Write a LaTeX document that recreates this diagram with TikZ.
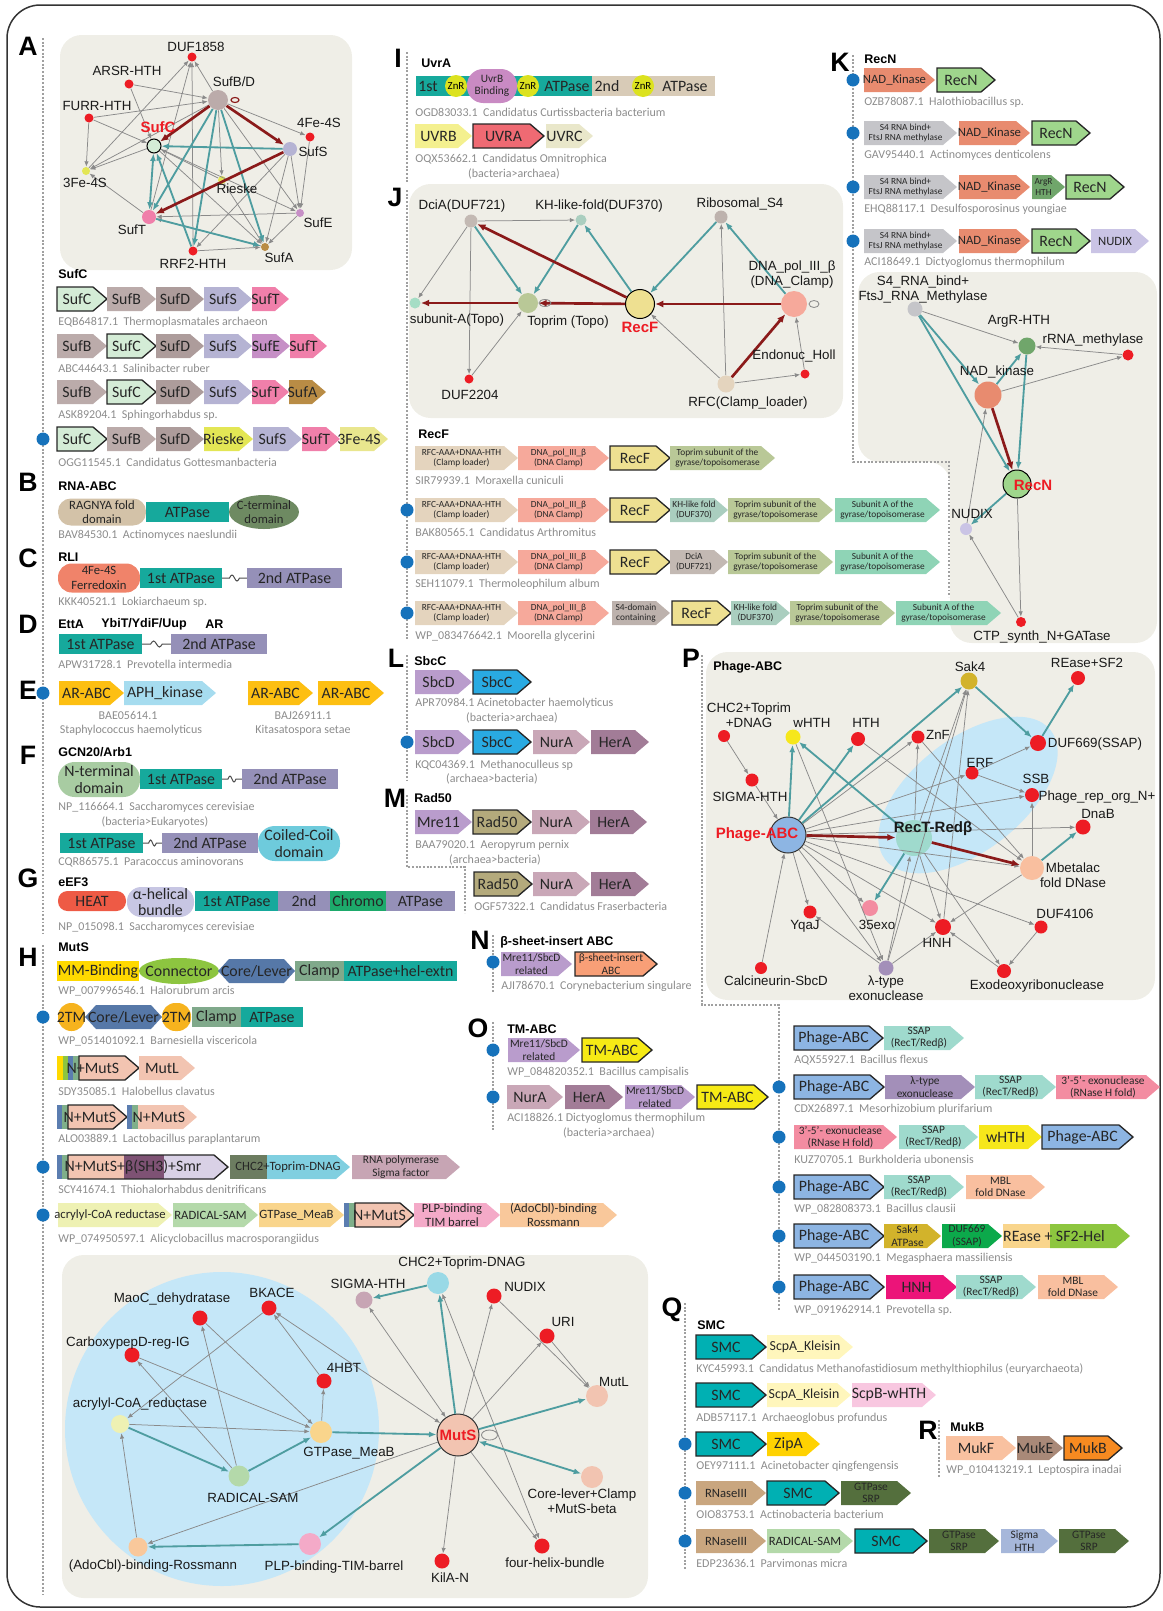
\documentclass[tikz,border=0pt]{standalone}
\usepackage{fontspec}
\setmainfont{Liberation Sans}
\newfontfamily\gf{Carlito}
\usetikzlibrary{arrows.meta}

% general colours
\definecolor{bgc}{HTML}{EFEEE7}
\definecolor{edgec}{HTML}{8A8A8A}
\definecolor{tealc}{HTML}{4E9DA0}
\definecolor{dredc}{HTML}{8B1A1A}
\definecolor{dotc}{HTML}{A0A0A0}
\definecolor{bdotc}{HTML}{1672BB}
\definecolor{nredc}{HTML}{ED1C24}
\definecolor{nblue}{HTML}{C5E7F8}
% gene colours
\definecolor{csufc}{HTML}{D4ECD6}\definecolor{csufb}{HTML}{BBABAA}\definecolor{csufd}{HTML}{AD9C9B}
\definecolor{csufs}{HTML}{B5B3D3}\definecolor{csuft}{HTML}{F07FAA}\definecolor{csufe}{HTML}{C68FC6}
\definecolor{csufa}{HTML}{B98C45}\definecolor{crieske}{HTML}{E3E655}\definecolor{cfe3}{HTML}{E9E68E}
\definecolor{cragnya}{HTML}{D3C2A8}\definecolor{catp}{HTML}{16A99C}\definecolor{cct}{HTML}{6E8A62}
\definecolor{cfer}{HTML}{F0836A}\definecolor{catp2}{HTML}{9590B8}\definecolor{carabc}{HTML}{FDBF12}
\definecolor{caph}{HTML}{A6DCEF}\definecolor{cnterm}{HTML}{A8CCA2}\definecolor{ccoil}{HTML}{6ECBDC}
\definecolor{cheat}{HTML}{EE5A45}\definecolor{chelix}{HTML}{C7C6E3}\definecolor{cchromo}{HTML}{1DAA6B}
\definecolor{cmm}{HTML}{FFD900}\definecolor{cconn}{HTML}{8DC540}\definecolor{ccore}{HTML}{5678A8}
\definecolor{cclamp}{HTML}{80A98B}\definecolor{c2tm}{HTML}{F6B31E}\definecolor{cmuts}{HTML}{F2C4B1}
\definecolor{cbeta}{HTML}{7E5274}\definecolor{csmr}{HTML}{D9D1E6}\definecolor{cchc}{HTML}{6C7C60}
\definecolor{ctoprim}{HTML}{80CFE0}\definecolor{crnap}{HTML}{C7A5B4}\definecolor{cacryl}{HTML}{EEF1B3}
\definecolor{crad}{HTML}{B4D9AA}\definecolor{cgtp}{HTML}{F9D58C}\definecolor{cplp}{HTML}{F4AAC8}
\definecolor{cado}{HTML}{F9C89B}\definecolor{cstb}{HTML}{5B7DB0}\definecolor{cstg}{HTML}{7FAF8A}
\definecolor{cuvrb}{HTML}{F4F08F}\definecolor{cuvra}{HTML}{EF6A73}\definecolor{cuvrc}{HTML}{E9E7CA}
\definecolor{cuvrab}{HTML}{C98AC3}\definecolor{cznr}{HTML}{DCE21F}\definecolor{c2nd}{HTML}{D8CBB7}
\definecolor{crfc}{HTML}{E4D4BE}\definecolor{cdnap}{HTML}{F6A99B}\definecolor{crecf}{HTML}{EEE091}
\definecolor{ctop}{HTML}{B9C897}\definecolor{ckh}{HTML}{AACEBF}\definecolor{csuba}{HTML}{8FD4B6}
\definecolor{cdcia}{HTML}{C3B9B3}\definecolor{cs4d}{HTML}{BDB2AD}
\definecolor{cnad}{HTML}{E88B6F}\definecolor{crecn}{HTML}{9FD68C}\definecolor{cs4}{HTML}{C5C5C9}
\definecolor{cargr}{HTML}{70A66B}\definecolor{cnudix}{HTML}{CAC4E5}
\definecolor{csbcd}{HTML}{B99CCC}\definecolor{csbcc}{HTML}{29AAE2}\definecolor{cnura}{HTML}{C9A7B7}
\definecolor{chera}{HTML}{A27C97}\definecolor{crad50}{HTML}{B4AA7C}\definecolor{cbsheet}{HTML}{F89F77}
\definecolor{ctmabc}{HTML}{F6EA15}
\definecolor{cphage}{HTML}{8DB5E3}\definecolor{cssap}{HTML}{9FDACD}\definecolor{clam}{HTML}{A38FB9}
\definecolor{c35}{HTML}{F38CA1}\definecolor{cwhth}{HTML}{F6E71B}\definecolor{cmbl}{HTML}{F9BF9F}
\definecolor{csak4}{HTML}{D2B32B}\definecolor{cduf669}{HTML}{0CA94B}\definecolor{crease}{HTML}{F9D58C}
\definecolor{csf2}{HTML}{8DC63F}\definecolor{chnh}{HTML}{EC1479}
\definecolor{csmc}{HTML}{00B0B3}\definecolor{cscpa}{HTML}{FFF6BC}\definecolor{cscpb}{HTML}{F8C7E0}
\definecolor{czipa}{HTML}{FFD201}\definecolor{crnase}{HTML}{C9A67F}\definecolor{csrp}{HTML}{546F3D}
\definecolor{csig}{HTML}{A6B7DA}
\definecolor{cmukf}{HTML}{F9C1A0}\definecolor{cmuke}{HTML}{A98978}\definecolor{cmukb}{HTML}{F78A20}

\tikzset{
  gtxt/.style={inner sep=0pt, align=center, text=black!85, font=\gf\fontsize{9.5}{10}\selectfont},
  gmb/.style={font=\gf\fontsize{8.3}{9}\selectfont},
  gmd/.style={font=\gf\fontsize{7.6}{8.5}\selectfont},
  gsm/.style={font=\gf\fontsize{6.8}{7.4}\selectfont},
  gxs/.style={font=\gf\fontsize{5.6}{6.2}\selectfont},
  acc/.style={anchor=west, inner sep=0pt, text=black!45, font=\gf\fontsize{7.2}{8}\selectfont},
  accm/.style={acc, anchor=center},
  ttl/.style={anchor=west, inner sep=0pt, font=\bfseries\fontsize{7.5}{8}\selectfont},
  letr/.style={inner sep=0pt, font=\bfseries\fontsize{16}{16}\selectfont},
  nd/.style={circle, inner sep=0pt, minimum size={#1*0.6pt}},
  nl/.style={inner sep=0pt, align=center, text=black!90, font=\fontsize{8}{9}\selectfont},
  nlr/.style={inner sep=0pt, text=nredc, font=\bfseries\fontsize{9}{10}\selectfont},
  ge/.style={draw=edgec, line width=0.45pt, -{Latex[length=3.2pt,width=2.6pt]}},
  gb/.style={ge, {Latex[length=3.2pt,width=2.6pt]}-{Latex[length=3.2pt,width=2.6pt]}},
  te/.style={draw=tealc, line width=1.1pt, -{Latex[length=4.5pt,width=3.6pt]}},
  tb/.style={te, {Latex[length=4.5pt,width=3.6pt]}-{Latex[length=4.5pt,width=3.6pt]}},
  re/.style={draw=dredc, line width=1.6pt, -{Latex[length=5pt,width=4.2pt]}},
  dotl/.style={draw=dotc, line width=1.1pt, dash pattern=on 1.1pt off 1.1pt},
  bgbox/.style={fill=bgc, rounded corners=13pt},
}

\newcounter{gn}
% gene arrow
\newcommand{\gen}[6][]{%
  \fill[#5] (#2,#4-12) -- (#3-14,#4-12) -- (#3,#4) -- (#3-14,#4+12) -- (#2,#4+12) -- cycle;
  \stepcounter{gn}\node[gtxt,#1] (g\thegn) at ({(#2+#3)/2-5},#4) {#6};}
% gene arrow with border (query gene)
\newcommand{\genb}[6][]{%
  \filldraw[fill=#5, draw=black!85, line width=0.8pt] (#2,#4-12) -- (#3-14,#4-12) -- (#3,#4) -- (#3-14,#4+12) -- (#2,#4+12) -- cycle;
  \stepcounter{gn}\node[gtxt,#1] (g\thegn) at ({(#2+#3)/2-5},#4) {#6};}
% domain box
\newcommand{\rbox}[6][]{%
  \fill[#5] (#2,#4-10) rectangle (#3,#4+10);
  \stepcounter{gn}\node[gtxt,#1] (g\thegn) at ({(#2+#3)/2},#4) {#6};}
\newcommand{\pill}[7][]{%
  \fill[#6, rounded corners={#5*0.57pt}] (#2,#4-#5) rectangle (#3,#4+#5);
  \stepcounter{gn}\node[gtxt,#1] (g\thegn) at ({(#2+#3)/2},#4) {#7};}
\newcommand{\hexg}[6][]{%
  \fill[#5] (#2,#4) -- (#2+11,#4-12) -- (#3-11,#4-12) -- (#3,#4) -- (#3-11,#4+12) -- (#2+11,#4+12) -- cycle;
  \stepcounter{gn}\node[gtxt,#1] (g\thegn) at ({(#2+#3)/2},#4) {#6};}
\newcommand{\strp}[4]{\fill[#4] (#1,#3-12) rectangle (#2,#3+12);}
\newcommand{\wave}[3]{%
  \draw[line width=0.6pt, black!70] (#1,#3) -- ({#1+0.3*(#2-#1)},#3) sin ({#1+0.4*(#2-#1)},#3-3) cos ({#1+0.5*(#2-#1)},#3) sin ({#1+0.6*(#2-#1)},#3+3) cos ({#1+0.7*(#2-#1)},#3) -- (#2,#3);}
\newcommand{\bdot}[2]{\fill[bdotc] (#1,#2) circle [radius=6.5];}
\newcommand{\acct}[3]{\stepcounter{gn}\node[acc] (c\thegn) at (#1,#2) {#3};}
\newcommand{\accm}[3]{\stepcounter{gn}\node[accm] (c\thegn) at (#1,#2) {#3};}
\newcommand{\ttl}[3]{\stepcounter{gn}\node[ttl] (t\thegn) at (#1,#2) {#3};}
\newcommand{\letr}[3]{\node[letr] (L#3) at (#1,#2) {#3};}

\begin{document}
\begin{tikzpicture}[x=0.6pt,y=-0.6pt]
\useasboundingbox (0,0) rectangle (1163,1611);
\draw[line width=0.9pt, black!80, rounded corners=20pt] (7,5) rectangle (1160,1607);

% ---------- network backgrounds ----------
\fill[bgbox] (60,35) rectangle (352,270);
\fill[bgbox] (409,184) rectangle (843,418);
\fill[bgc, rounded corners=13pt] (858,272) -- (1157,272) -- (1157,643) -- (950,643) -- (950,462) -- (858,462) -- cycle;
\fill[bgbox] (706,652) rectangle (1155,1000);
\fill[bgbox] (62,1255) rectangle (648,1598);

% ---------- dotted guide lines ----------
\draw[dotl] (43,38) -- (43,935);
\draw[dotl] (43,945) -- (43,1595);
\draw[dotl] (407,52) -- (407,182);
\draw[dotl] (407,190) -- (407,640);
\draw[dotl] (407,655) -- (407,780);
\draw[dotl] (407,795) -- (407,867) -- (465,867) -- (465,913);
\draw[dotl] (493,935) -- (493,992);
\draw[dotl] (493,1022) -- (493,1130);
\draw[dotl] (853,55) -- (853,462) -- (949,462) -- (949,597);
\draw[dotl] (702,655) -- (702,1005) -- (779,1005) -- (779,1310);
\draw[dotl] (685,1303) -- (685,1570);
\draw[dotl] (939,1420) -- (939,1478);

% ---------- panel letters ----------
\letr{28}{46}{A}\letr{28}{482}{B}\letr{28}{558}{C}\letr{28}{624}{D}
\letr{28}{690}{E}\letr{28}{755}{F}\letr{28}{878}{G}\letr{28}{957}{H}
\letr{398}{58}{I}\letr{395}{197}{J}\letr{840}{62}{K}\letr{396}{658}{L}
\letr{395}{798}{M}\letr{480}{940}{N}\letr{478}{1028}{O}\letr{691}{658}{P}
\letr{672}{1310}{Q}\letr{928}{1430}{R}

% ================= A : SufC network =================
\node[nd=9, fill=nredc] (aduf) at (192,57) {};
\node[nd=9, fill=nredc] (aarsr) at (129,84) {};
\node[nd=9, fill=nredc] (afurr) at (89,118) {};
\node[nd=20, fill=csufb] (asufbd) at (218,100) {};
\node[nd=14, fill=csufc, draw=black, line width=0.6pt] (asufc) at (154,146) {};
\node[nd=9, fill=nredc] (afe4) at (310,137) {};
\node[nd=14, fill=csufs] (asufs) at (290,149) {};
\node[nd=8, fill=crieske] (afe3) at (86,171) {};
\node[nd=8, fill=crieske] (arie) at (222,180) {};
\node[nd=14, fill=csuft] (asuft) at (149,217) {};
\node[nd=8, fill=csufe] (asufe) at (300,213) {};
\node[nd=9, fill=nredc] (arrf) at (193,251) {};
\node[nd=8, fill=csufa] (asufa) at (265,247) {};
\foreach \a/\b in {aarsr/asufbd, aarsr/asufc, afurr/asufbd, afurr/asufc, afurr/afe3, afe3/aduf,
  asuft/aduf, arrf/aduf, asufbd/aduf, asufbd/afe3, asufc/afe3, asufbd/afe4, afe4/asufe, asufbd/arie,
  asufbd/asufe, asufc/asufe, asufc/asufa, arie/asufc, arie/asufa, asuft/afe3, asufs/asufe,
  asufs/asufa, asufs/arrf, asufe/asuft, arrf/asufa, asufe/asufa, asufa/asuft}
  \draw[ge] (\a) -- (\b);
\foreach \a/\b in {asufbd/asuft, asufbd/arrf, asufbd/asufa, asufs/asufc, arrf/asufc, asuft/asufa}
  \draw[te] (\a) -- (\b);
\draw[tb] (asufc) -- (asuft);
\foreach \a/\b in {asufbd/asufc, asufbd/asufs, asufs/asuft}
  \draw[re] (\a) -- (\b);
\draw[dredc, line width=0.7pt] ([xshift=4pt]asufbd.east) ellipse [x radius=4, y radius=2.5];
\node[nl] (aduf-l) at (196,47) {DUF1858};
\node[nl] (aarsr-l) at (127,71) {ARSR-HTH};
\node[nl] (afurr-l) at (97,106) {FURR-HTH};
\node[nl] (asufbd-l) at (234,82) {SufB/D};
\node[nlr] (asufc-l) at (158,127) {SufC};
\node[nl] (afe4-l) at (319,123) {4Fe-4S};
\node[nl] (asufs-l) at (313,152) {SufS};
\node[nl] (afe3-l) at (85,183) {3Fe-4S};
\node[nl] (arie-l) at (237,189) {Rieske};
\node[nl] (asuft-l) at (132,230) {SufT};
\node[nl] (asufe-l) at (318,223) {SufE};
\node[nl] (arrf-l) at (193,264) {RRF2-HTH};
\node[nl] (asufa-l) at (279,258) {SufA};

% ---------- A : SufC operons ----------
\ttl{58}{274}{SufC}
\genb{57}{107}{299}{csufc}{SufC}\gen{107}{156}{299}{csufb}{SufB}\gen{156}{204}{299}{csufd}{SufD}
\gen{204}{252}{299}{csufs}{SufS}\gen{252}{289}{299}{csuft}{SufT}
\acct{58}{322}{EQB64817.1~~Thermoplasmatales archaeon}
\gen{57}{107}{346}{csufb}{SufB}\genb{107}{156}{346}{csufc}{SufC}\gen{156}{204}{346}{csufd}{SufD}
\gen{204}{252}{346}{csufs}{SufS}\gen{252}{290}{346}{csufe}{SufE}\gen{290}{327}{346}{csuft}{SufT}
\acct{58}{368}{ABC44643.1~~Salinibacter ruber}
\gen{57}{107}{392}{csufb}{SufB}\genb{107}{156}{392}{csufc}{SufC}\gen{156}{204}{392}{csufd}{SufD}
\gen{204}{252}{392}{csufs}{SufS}\gen{252}{289}{392}{csuft}{SufT}\gen{289}{326}{392}{csufa}{SufA}
\acct{58}{415}{ASK89204.1~~Sphingorhabdus sp.}
\bdot{43}{439}
\genb{57}{107}{439}{csufc}{SufC}\gen{107}{156}{439}{csufb}{SufB}\gen{156}{204}{439}{csufd}{SufD}
\gen{204}{253}{439}{crieske}{Rieske}\gen{253}{302}{439}{csufs}{SufS}\gen{302}{340}{439}{csuft}{SufT}
\gen{340}{388}{439}{cfe3}{3Fe-4S}
\acct{58}{462}{OGG11545.1~~Candidatus Gottesmanbacteria}

% ================= B-G =================
\ttl{58}{486}{RNA-ABC}
\pill[gmd]{58}{146}{512}{13.5}{cragnya}{RAGNYA fold\\domain}
\rbox{146}{229}{512}{catp}{ATPase}
\fill[cct] (264,512) ellipse [x radius=35, y radius=17];
\node[gtxt,gmd] (bct) at (264,512) {C-terminal\\domain};
\acct{58}{535}{BAV84530.1~~Actinomyces naeslundii}

\ttl{58}{557}{RLI}
\pill[gmd]{58}{140}{578}{14.5}{cfer}{4Fe-4S\\Ferredoxin}
\rbox{140}{222}{578}{catp}{1st ATPase}\wave{222}{247}{578}
\rbox{247}{342}{578}{catp2}{2nd ATPase}
\acct{58}{602}{KKK40521.1~~Lokiarchaeum sp.}

\ttl{58}{624}{EttA}\ttl{101}{624}{YbiT/YdiF/Uup}\ttl{205}{624}{AR}
\rbox{59}{142}{644}{catp}{1st ATPase}\wave{142}{171}{644}
\rbox{171}{267}{644}{catp2}{2nd ATPase}
\acct{58}{664}{APW31728.1~~Prevotella intermedia}

\bdot{43}{693}
\gen{59}{124}{693}{carabc}{AR-ABC}\gen{124}{216}{693}{caph}{APH\_kinase}
\gen{248}{313}{693}{carabc}{AR-ABC}\gen{318}{384}{693}{carabc}{AR-ABC}
\accm{128}{715}{BAE05614.1}\accm{131}{730}{Staphylococcus haemolyticus}
\accm{303}{715}{BAJ26911.1}\accm{303}{730}{Kitasatospora setae}

\ttl{58}{752}{GCN20/Arb1}
\pill{58}{140}{779.5}{17.5}{cnterm}{N-terminal\\domain}
\rbox{140}{222}{779}{catp}{1st ATPase}\wave{222}{242}{779}
\rbox{242}{338}{779}{catp2}{2nd ATPase}
\acct{58}{807}{NP\_116664.1~~Saccharomyces cerevisiae}\accm{155}{822}{(bacteria>Eukaryotes)}
\rbox{60}{143}{843}{catp}{1st ATPase}\wave{143}{162}{843}
\rbox{162}{258}{843}{catp2}{2nd ATPase}
\pill{258}{340}{843.5}{17.5}{ccoil}{Coiled-Coil\\domain}
\acct{58}{862}{CQR86575.1~~Paracoccus aminovorans}

\ttl{58}{882}{eEF3}
\pill{58}{126}{901}{10}{cheat}{HEAT}
\pill{127}{194}{902}{15}{chelix}{α-helical\\bundle}
\rbox{195}{278}{901}{catp}{1st ATPase}\rbox{278}{330}{901}{catp2}{2nd}
\rbox{330}{386}{901}{cchromo}{Chromo}\rbox{386}{455}{901}{catp2}{ATPase}
\acct{58}{927}{NP\_015098.1~~Saccharomyces cerevisiae}

% ================= H : MutS =================
\ttl{58}{947}{MutS}
\rbox{57}{139}{971}{cmm}{MM-Binding}
\fill[cconn] (179,971) ellipse [x radius=40, y radius=13];
\node[gtxt] (hconn) at (179,971) {Connector};
\hexg{218}{295}{971}{ccore}{Core/Lever}
\rbox{295}{344}{971}{cclamp}{Clamp}\rbox{344}{457}{971}{catp}{ATPase+hel-extn}
\acct{58}{991}{WP\_007996546.1~~Halorubrum arcis}
\bdot{43}{1017}
\pill{58}{85}{1017}{14}{c2tm}{2TM}\hexg{85}{162}{1017}{ccore}{Core/Lever}
\pill{162}{191}{1017}{14}{c2tm}{2TM}\rbox{192}{241}{1017}{cclamp}{Clamp}
\rbox{241}{303}{1017}{catp}{ATPase}
\acct{58}{1041}{WP\_051401092.1~~Barnesiella viscericola}
\strp{57}{63}{1068}{cmm}\strp{63}{68}{1068}{cconn}\strp{68}{73}{1068}{cstb}\strp{73}{79}{1068}{cstg}
\genb{79}{139}{1068}{cmuts}{}\gen{139}{195}{1068}{cmuts}{MutL}
\node[gtxt] (h3a) at (93,1068) {N+MutS};
\acct{58}{1091}{SDY35085.1~~Halobellus clavatus}
\strp{57}{62}{1117}{cstb}\strp{62}{68}{1117}{cstg}\genb{68}{127}{1117}{cmuts}{}
\strp{127}{132}{1117}{cstb}\strp{132}{138}{1117}{cstg}\gen{138}{197}{1117}{cmuts}{}
\node[gtxt] (h4a) at (90,1117) {N+MutS};
\node[gtxt] (h4b) at (159,1117) {N+MutS};
\acct{58}{1139}{ALO03889.1~~Lactobacillus paraplantarum}
\bdot{43}{1167}
\strp{57}{62}{1167}{cstb}\strp{62}{68}{1167}{cstg}
\fill[cmuts] (68,1155) rectangle (124,1179);
\fill[cbeta] (124,1155) rectangle (164,1179);
\fill[csmr] (164,1155) -- (214,1155) -- (228,1167) -- (214,1179) -- (164,1179) -- cycle;
\draw[black!85, line width=0.8pt] (68,1155) -- (214,1155) -- (228,1167) -- (214,1179) -- (68,1179) -- cycle;
\node[gtxt] (h5a) at (133,1167) {N+MutS+β(SH3)+Smr};
\fill[cchc] (230,1155) rectangle (267,1179);
\gen{267}{350}{1167}{ctoprim}{}
\node[gtxt,gmd] (h5b) at (288,1167) {CHC2+Toprim-DNAG};
\gen[gsm]{352}{460}{1167}{crnap}{RNA polymerase\\Sigma factor}
\acct{58}{1189}{SCY41674.1~~Thiohalorhabdus denitrificans}
\bdot{43}{1215}
\gen[gmd]{58}{172}{1215}{cacryl}{acrylyl-CoA reductase}\gen[gmd]{173}{258}{1215}{crad}{RADICAL-SAM}
\gen[gmd]{259}{344}{1215}{cgtp}{GTPase\_MeaB}
\strp{344}{349}{1215}{cstb}\strp{349}{355}{1215}{cstg}
\genb{355}{414}{1215}{cmuts}{N+MutS}
\gen[gmd]{414}{500}{1215}{cplp}{PLP-binding\\TIM barrel}
\gen[gmd]{500}{617}{1215}{cado}{(AdoCbl)-binding\\Rossmann}
\acct{58}{1239}{WP\_074950597.1~~Alicyclobacillus macrosporangiidus}

% ---------- H : MutS network ----------
\fill[nblue] (222,1429) circle [radius=157];
\node[nd=15, fill=nredc] (hmaoc) at (200,1318) {};
\node[nd=15, fill=nredc] (hbkace) at (269,1308) {};
\node[nd=15, fill=nredc] (hcarb) at (132,1355) {};
\node[nd=15, fill=nredc] (hhbt) at (324,1381) {};
\node[nd=18, fill=cacryl] (haryl) at (120,1424) {};
\node[nd=22, fill=cgtp] (hgtp) at (321,1432) {};
\node[nd=21, fill=crad] (hrad) at (239,1476) {};
\node[nd=19, fill=cado] (hado) at (138,1547) {};
\node[nd=22, fill=cplp] (hplp) at (310,1544) {};
\node[nd=17, fill=crnap] (hsig) at (364,1300) {};
\node[nd=22, fill=ctoprim!80] (hchc) at (438,1283) {};
\node[nd=15, fill=nredc] (hnud) at (494,1296) {};
\node[nd=15, fill=nredc] (huri) at (547,1336) {};
\node[nd=22, fill=cmuts] (hmutl) at (597,1396) {};
\node[nd=42, fill=cmuts, draw=black!80, line width=0.6pt] (hmuts) at (458,1435) {};
\node[nd=22, fill=cmuts] (hcore) at (592,1477) {};
\node[nd=15, fill=nredc] (hkila) at (442,1561) {};
\node[nd=15, fill=nredc] (hfour) at (542,1546) {};
\foreach \a/\b in {hrad/hcarb, hrad/hmaoc, hhbt/hbkace, hbkace/haryl, hgtp/hhbt, hcarb/hgtp,
  hmaoc/hgtp, haryl/hgtp, hado/haryl, hmuts/hado, hmuts/hnud, hmuts/huri, hnud/hmutl,
  huri/hmutl, hmuts/hkila, hmuts/hfour}
  \draw[ge] (\a) -- (\b);
\foreach \a/\b in {hmuts/hbkace, hmuts/hsig, hfour/hchc}
  \draw[gb] (\a) -- (\b);
\foreach \a/\b in {haryl/hrad, hrad/hgtp, hgtp/hmuts, hmuts/hchc, hchc/hsig, hmuts/hmutl,
  hmuts/hplp, hplp/hado}
  \draw[te] (\a) -- (\b);
\draw[tb] (hmuts) -- (hcore);
\draw[edgec, line width=0.5pt] ([xshift=6pt]hmuts.east) ellipse [x radius=8, y radius=5];
\node[nlr] (hmuts-l) at (hmuts) {MutS};
\node[nl] (hmaoc-l) at (172,1299) {MaoC\_dehydratase};
\node[nl] (hbkace-l) at (272,1293) {BKACE};
\node[nl] (hcarb-l) at (128,1343) {CarboxypepD-reg-IG};
\node[nl] (hhbt-l) at (344,1368) {4HBT};
\node[nl] (haryl-l) at (140,1404) {acrylyl-CoA\_reductase};
\node[nl] (hgtp-l) at (349,1453) {GTPase\_MeaB};
\node[nl] (hrad-l) at (253,1498) {RADICAL-SAM};
\node[nl] (hado-l) at (153,1566) {(AdoCbl)-binding-Rossmann};
\node[nl] (hplp-l) at (334,1567) {PLP-binding-TIM-barrel};
\node[nl] (hsig-l) at (368,1284) {SIGMA-HTH};
\node[nl] (hchc-l) at (462,1263) {CHC2+Toprim-DNAG};
\node[nl] (hnud-l) at (525,1287) {NUDIX};
\node[nl] (huri-l) at (563,1322) {URI};
\node[nl] (hmutl-l) at (614,1382) {MutL};
\node[nl] (hcore-l) at (582,1501) {Core-lever+Clamp\\+MutS-beta};
\node[nl] (hkila-l) at (450,1578) {KilA-N};
\node[nl] (hfour-l) at (555,1563) {four-helix-bundle};

% ================= I : UvrA =================
\ttl{421}{63}{UvrA}
\fill[catp] (416,76) rectangle (592,96);
\fill[c2nd] (592,76) rectangle (715,96);
\node[gtxt] (iu1) at (428,86) {1st};
\node[gtxt] (iu2) at (567,86) {ATPase};
\node[gtxt] (iu3) at (607,86) {2nd};
\node[gtxt] (iu4) at (685,86) {ATPase};
\foreach \x/\n in {456/za, 528/zb, 643/zc}
  \node[nd=22, fill=cznr, font=\gf\fontsize{6.5}{7}\selectfont] (i\n) at (\x,86) {ZnR};
\pill[gsm]{467}{517}{86}{17}{cuvrab}{UvrB\\Binding}
\acct{415}{112}{OGD83033.1~~Candidatus Curtissbacteria bacterium}
\gen{415}{472}{136}{cuvrb}{UVRB}\genb{473}{544}{136}{cuvra}{UVRA}\gen{546}{593}{136}{cuvrc}{UVRC}
\acct{415}{159}{OQX53662.1~~Candidatus Omnitrophica}\accm{514}{174}{(bacteria>archaea)}

% ================= J : RecF network =================
\node[nd=13, fill=cdcia] (jdcia) at (471,221) {};
\node[nd=11, fill=ckh] (jkh) at (581,220) {};
\node[nd=13, fill=cs4d] (jrib) at (721,217) {};
\node[nd=26, fill=cdnap] (jdnap) at (794,304) {};
\node[nd=11, fill=csuba!80] (jsuba) at (415,303) {};
\node[nd=20, fill=ctop] (jtop) at (528,303) {};
\node[nd=29, fill=crecf, draw=black, line width=0.6pt] (jrecf) at (640,304) {};
\node[nd=9, fill=nredc] (jduf) at (469,379) {};
\node[nd=17, fill=crfc] (jrfc) at (726,384) {};
\node[nd=9, fill=nredc] (jendo) at (805,374) {};
\foreach \a/\b in {jdcia/jkh, jdcia/jsuba, jdcia/jduf, jduf/jtop, jrfc/jrecf, jrfc/jrib,
  jrfc/jendo, jendo/jdnap}
  \draw[ge] (\a) -- (\b);
\foreach \a/\b in {jdcia/jtop, jkh/jtop, jrecf/jkh, jrib/jrecf, jdnap/jrib}
  \draw[te] (\a) -- (\b);
\foreach \a/\b in {jrecf/jdcia, jrecf/jtop, jtop/jsuba, jdnap/jrecf, jrfc/jdnap}
  \draw[re] (\a) -- (\b);
\draw[edgec, line width=0.5pt] ([xshift=4pt]jtop.east) ellipse [x radius=6, y radius=3.5];
\draw[edgec, line width=0.5pt] ([xshift=4pt]jdnap.east) ellipse [x radius=5, y radius=3.5];
\node[nl] (jdcia-l) at (462,206) {DciA(DUF721)};
\node[nl] (jkh-l) at (599,206) {KH-like-fold(DUF370)};
\node[nl] (jrib-l) at (740,204) {Ribosomal\_S4};
\node[nl] (jdnap-l) at (792,275) {DNA\_pol\_III\_β\\(DNA\_Clamp)};
\node[nl] (jsuba-l) at (457,320) {subunit-A(Topo)};
\node[nl] (jtop-l) at (568,322) {Toprim (Topo)};
\node[nlr] (jrecf-l) at (640,327) {RecF};
\node[nl] (jduf-l) at (470,395) {DUF2204};
\node[nl] (jrfc-l) at (748,403) {RFC(Clamp\_loader)};
\node[nl] (jendo-l) at (794,356) {Endonuc\_Holl};

% ---------- J : RecF operons ----------
\ttl{418}{434}{RecF}
\gen[gxs]{415}{518}{458}{crfc}{RFC-AAA+DNAA-HTH\\(Clamp loader)}
\gen[gxs]{518}{609}{458}{cdnap}{DNA\_pol\_III\_β\\(DNA Clamp)}
\genb{610}{670}{458}{crecf}{RecF}
\gen[gxs]{670}{775}{458}{ctop}{Toprim subunit of the\\gyrase/topoisomerase}
\acct{415}{480}{SIR79939.1~~Moraxella cuniculi}
\bdot{407}{510}
\gen[gxs]{415}{518}{510}{crfc}{RFC-AAA+DNAA-HTH\\(Clamp loader)}
\gen[gxs]{518}{609}{510}{cdnap}{DNA\_pol\_III\_β\\(DNA Clamp)}
\genb{610}{670}{510}{crecf}{RecF}
\gen[gxs]{670}{728}{510}{ckh}{KH-like fold\\(DUF370)}
\gen[gxs]{728}{833}{510}{ctop}{Toprim subunit of the\\gyrase/topoisomerase}
\gen[gxs]{835}{940}{510}{csuba}{Subunit A of the\\gyrase/topoisomerase}
\acct{415}{532}{BAK80565.1~~Candidatus Arthromitus}
\bdot{407}{562}
\gen[gxs]{415}{518}{562}{crfc}{RFC-AAA+DNAA-HTH\\(Clamp loader)}
\gen[gxs]{518}{609}{562}{cdnap}{DNA\_pol\_III\_β\\(DNA Clamp)}
\genb{610}{670}{562}{crecf}{RecF}
\gen[gxs]{670}{728}{562}{cdcia}{DciA\\(DUF721)}
\gen[gxs]{728}{833}{562}{ctop}{Toprim subunit of the\\gyrase/topoisomerase}
\gen[gxs]{835}{940}{562}{csuba}{Subunit A of the\\gyrase/topoisomerase}
\acct{415}{584}{SEH11079.1~~Thermoleophilum album}
\bdot{407}{613}
\gen[gxs]{415}{518}{613}{crfc}{RFC-AAA+DNAA-HTH\\(Clamp loader)}
\gen[gxs]{518}{609}{613}{cdnap}{DNA\_pol\_III\_β\\(DNA Clamp)}
\gen[gxs]{612}{670}{613}{cs4d}{S4-domain\\containing}
\genb{672}{731}{613}{crecf}{RecF}
\gen[gxs]{731}{790}{613}{ckh}{KH-like fold\\(DUF370)}
\gen[gxs]{790}{895}{613}{ctop}{Toprim subunit of the\\gyrase/topoisomerase}
\gen[gxs]{896}{1001}{613}{csuba}{Subunit A of the\\gyrase/topoisomerase}
\acct{415}{636}{WP\_083476642.1~~Moorella glycerini}

% ================= K : RecN =================
\ttl{864}{59}{RecN}
\bdot{853}{80}
\gen[gmd]{864}{935}{80}{cnad}{NAD\_Kinase}\genb{937}{995}{80}{crecn}{RecN}
\acct{864}{102}{OZB78087.1~~Halothiobacillus sp.}
\bdot{853}{133}
\gen[gxs]{864}{957}{133}{cs4}{S4 RNA bind+\\FtsJ RNA methylase}
\gen[gmd]{959}{1030}{133}{cnad}{NAD\_Kinase}\genb{1032}{1090}{133}{crecn}{RecN}
\acct{864}{155}{GAV95440.1~~Actinomyces denticolens}
\bdot{853}{187}
\gen[gxs]{864}{957}{187}{cs4}{S4 RNA bind+\\FtsJ RNA methylase}
\gen[gmd]{959}{1030}{187}{cnad}{NAD\_Kinase}\gen[gxs]{1032}{1065}{187}{cargr}{ArgR\\HTH}
\genb{1066}{1124}{187}{crecn}{RecN}
\acct{864}{209}{EHQ88117.1~~Desulfosporosinus youngiae}
\bdot{853}{241}
\gen[gxs]{864}{957}{241}{cs4}{S4 RNA bind+\\FtsJ RNA methylase}
\gen[gmd]{959}{1030}{241}{cnad}{NAD\_Kinase}\genb{1032}{1090}{241}{crecn}{RecN}
\gen[gmd]{1091}{1149}{241}{cnudix}{NUDIX}
\acct{864}{262}{ACI18649.1~~Dictyoglomus thermophilum}

% ---------- K : RecN network ----------
\node[nd=15, fill=cs4] (ks4) at (915,309) {};
\node[nd=17, fill=cargr] (kargr) at (1027,346) {};
\node[nd=11, fill=nredc] (krrna) at (1128,355) {};
\node[nd=27, fill=cnad] (knad) at (988,395) {};
\node[nd=28, fill=crecn, draw=black, line width=0.6pt] (krecn) at (1017,484) {};
\node[nd=12, fill=cnudix] (knudix) at (966,529) {};
\node[nd=10, fill=nredc] (kctp) at (1021,622) {};
\foreach \a/\b in {ks4/kargr, krrna/kargr, knad/krrna, krecn/kctp, kctp/knudix, knudix/knad}
  \draw[ge] (\a) -- (\b);
\foreach \a/\b in {ks4/knad, ks4/krecn, knad/kargr, kargr/krecn, krecn/knudix}
  \draw[te] (\a) -- (\b);
\draw[re] (knad) -- (krecn);
\node[nl] (ks4-l) at (923,290) {S4\_RNA\_bind+\\FtsJ\_RNA\_Methylase};
\node[nl] (kargr-l) at (1019,321) {ArgR-HTH};
\node[nl] (krrna-l) at (1093,340) {rRNA\_methylase};
\node[nl] (knad-l) at (997,372) {NAD\_kinase};
\node[nlr] (krecn-l) at (1033,485) {RecN};
\node[nl] (knudix-l) at (972,514) {NUDIX};
\node[nl] (kctp-l) at (1042,637) {CTP\_synth\_N+GATase};

% ================= L, M, N, O =================
\ttl{414}{661}{SbcC}
\gen{415}{472}{682}{csbcd}{SbcD}\genb{473}{531}{682}{csbcc}{SbcC}
\acct{415}{703}{APR70984.1 Acinetobacter haemolyticus}\accm{512}{718}{(bacteria>archaea)}
\bdot{407}{742}
\gen{415}{472}{742}{csbcd}{SbcD}\genb{473}{531}{742}{csbcc}{SbcC}
\gen{533}{590}{742}{cnura}{NurA}\gen{591}{649}{742}{chera}{HerA}
\acct{415}{765}{KQC04369.1~~Methanoculleus sp}\accm{492}{779}{(archaea>bacteria)}

\ttl{414}{798}{Rad50}
\gen{415}{472}{822}{csbcd}{Mre11}\genb{473}{531}{822}{crad50}{Rad50}
\gen{532}{590}{822}{cnura}{NurA}\gen{590}{647}{822}{chera}{HerA}
\acct{415}{845}{BAA79020.1~~Aeropyrum pernix}\accm{495}{860}{(archaea>bacteria)}
\genb{474}{532}{884}{crad50}{Rad50}\gen{533}{590}{884}{cnura}{NurA}\gen{591}{649}{884}{chera}{HerA}
\acct{474}{906}{OGF57322.1~~Candidatus Fraserbacteria}

\ttl{500}{942}{β-sheet-insert ABC}
\bdot{493}{962}
\gen[gsm]{501}{572}{964}{csbcd}{Mre11/SbcD\\related}\genb[gsm]{575}{657}{964}{cbsheet}{β-sheet-insert\\ABC}
\acct{501}{986}{AJI78670.1~~Corynebacterium singulare}

\ttl{507}{1029}{TM-ABC}
\bdot{493}{1050}
\gen[gsm]{508}{580}{1050}{csbcd}{Mre11/SbcD\\related}\genb{582}{652}{1050}{ctmabc}{TM-ABC}
\acct{507}{1072}{WP\_084820352.1~~Bacillus campisalis}
\bdot{493}{1097}
\gen{507}{563}{1097}{cnura}{NurA}\gen{565}{623}{1097}{chera}{HerA}
\gen[gsm]{625}{695}{1097}{csbcd}{Mre11/SbcD\\related}\genb{697}{768}{1097}{ctmabc}{TM-ABC}
\acct{507}{1118}{ACI18826.1 Dictyoglomus thermophilum}\accm{609}{1133}{(bacteria>archaea)}

% ================= P : Phage-ABC network =================
\fill[nblue, rotate around={38:(968,795)}] (968,795) ellipse [x radius=105, y radius=56];
\node[ttl] (ptitle) at (713,667) {Phage-ABC};
\node[nd=36, fill=cphage, draw=black!80, line width=0.6pt] (ppabc) at (788,835) {};
\node[nd=36, fill=cssap] (prect) at (914,838) {};
\node[nd=17, fill=csak4] (psak4) at (969,681) {};
\node[nd=14, fill=nredc] (prease) at (1078,678) {};
\node[nd=15, fill=cwhth] (pwhth) at (793,737) {};
\node[nd=14, fill=nredc] (phth) at (858,739) {};
\node[nd=13, fill=nredc] (pznf) at (918,737) {};
\node[nd=16, fill=nredc] (pduf669) at (1038,743) {};
\node[nd=13, fill=nredc] (perf) at (972,773) {};
\node[nd=14, fill=nredc] (pssb) at (1032,795) {};
\node[nd=15, fill=nredc] (pdnab) at (1083,827) {};
\node[nd=12, fill=nredc] (pchc) at (724,736) {};
\node[nd=13, fill=nredc] (psig) at (752,780) {};
\node[nd=24, fill=cmbl] (pmbl) at (1032,868) {};
\node[nd=13, fill=nredc] (pyqaj) at (810,912) {};
\node[nd=16, fill=c35] (pexo35) at (870,908) {};
\node[nd=16, fill=nredc] (phnh) at (943,927) {};
\node[nd=13, fill=nredc] (pduf4106) at (1041,927) {};
\node[nd=12, fill=nredc] (pcalc) at (761,968) {};
\node[nd=15, fill=clam] (plam) at (886,968) {};
\node[nd=14, fill=nredc] (pexod) at (1004,971) {};
\foreach \a/\b in {pchc/psig, psig/ppabc, pcalc/ppabc, ppabc/pyqaj, ppabc/pexo35, ppabc/phnh,
  ppabc/pduf4106, ppabc/plam, ppabc/pznf, ppabc/perf, ppabc/pssb, ppabc/pdnab, ppabc/pmbl,
  prect/phnh, prect/pznf, prect/psak4, phnh/psak4, plam/prect, plam/pyqaj, plam/phnh,
  pmbl/phnh, pexod/phnh, pduf4106/pexod, prect/pexod, pmbl/pssb, perf/pduf669, perf/pssb,
  pznf/pmbl, phth/pmbl, pwhth/plam, plam/psak4}
  \draw[ge] (\a) -- (\b);
\foreach \a/\b in {ppabc/pwhth, ppabc/phth, ppabc/psak4, psak4/pduf669, pduf669/prease, prect/pwhth,
  pmbl/pdnab, prect/pexo35}
  \draw[te] (\a) -- (\b);
\foreach \a/\b in {ppabc/prect, prect/pmbl}
  \draw[re] (\a) -- (\b);
\node[nlr] (ppabc-l) at (757,835) {Phage-ABC};
\node[nl, font=\bfseries\fontsize{9}{10}\selectfont] (prect-l) at (933,829) {RecT-Redβ};
\node[nl] (psak4-l) at (970,667) {Sak4};
\node[nl] (prease-l) at (1087,663) {REase+SF2};
\node[nl] (pwhth-l) at (812,723) {wHTH};
\node[nl] (phth-l) at (866,723) {HTH};
\node[nl] (pznf-l) at (938,735) {ZnF};
\node[nl] (pduf669-l) at (1095,744) {DUF669(SSAP)};
\node[nl] (perf-l) at (980,763) {ERF};
\node[nl] (pssb-l) at (1036,779) {SSB};
\node[nl] (prep-l) at (1097,797) {Phage\_rep\_org\_N+};
\node[nl] (pdnab-l) at (1098,814) {DnaB};
\node[nl] (pchc-l) at (749,715) {CHC2+Toprim\\+DNAG};
\node[nl] (psig-l) at (750,797) {SIGMA-HTH};
\node[nl] (pmbl-l) at (1073,875) {Mbetalac\\fold DNase};
\node[nl] (pyqaj-l) at (805,926) {YqaJ};
\node[nl] (pexo35-l) at (877,925) {35exo};
\node[nl] (phnh-l) at (937,943) {HNH};
\node[nl] (pduf4106-l) at (1065,914) {DUF4106};
\node[nl] (pcalc-l) at (776,981) {Calcineurin-SbcD};
\node[nl] (plam-l) at (886,988) {λ-type\\exonuclease};
\node[nl] (pexod-l) at (1037,986) {Exodeoxyribonuclease};

% ---------- P : operons ----------
\genb{794}{883}{1038}{cphage}{Phage-ABC}\gen[gsm]{884}{964}{1038}{cssap}{SSAP\\(RecT/Redβ)}
\acct{794}{1060}{AQX55927.1~~Bacillus flexus}
\bdot{779}{1087}
\genb{794}{884}{1087}{cphage}{Phage-ABC}\gen[gsm]{885}{975}{1087}{clam}{λ-type\\exonuclease}
\gen[gsm]{975}{1056}{1087}{cssap}{SSAP\\(RecT/Redβ)}
\gen[gsm]{1056}{1160}{1087}{c35}{3’-5’- exonuclease\\(RNase H fold)}
\acct{794}{1109}{CDX26897.1~~Mesorhizobium plurifarium}
\bdot{779}{1137}
\gen[gsm]{794}{897}{1137}{c35}{3’-5’- exonuclease\\(RNase H fold)}
\gen[gsm]{899}{978}{1137}{cssap}{SSAP\\(RecT/Redβ)}
\gen{979}{1042}{1137}{cwhth}{wHTH}\genb{1042}{1133}{1137}{cphage}{Phage-ABC}
\acct{794}{1159}{KUZ70705.1~~Burkholderia ubonensis}
\bdot{779}{1187}
\genb{794}{884}{1187}{cphage}{Phage-ABC}\gen[gsm]{884}{964}{1187}{cssap}{SSAP\\(RecT/Redβ)}
\gen[gsm]{966}{1045}{1187}{cmbl}{MBL\\fold DNase}
\acct{794}{1209}{WP\_082808373.1~~Bacillus clausii}
\bdot{779}{1236}
\genb{794}{884}{1236}{cphage}{Phage-ABC}\gen[gsm]{884}{941}{1236}{csak4}{Sak4\\ATPase}
\gen[gsm]{942}{1002}{1236}{cduf669}{DUF669\\(SSAP)}
\fill[crease] (1003,1224) rectangle (1051,1248);
\gen{1050}{1130}{1236}{csf2}{}
\node[gtxt] (prow5) at (1054,1236) {REase + SF2-Hel};
\acct{794}{1258}{WP\_044503190.1~~Megasphaera massiliensis}
\bdot{779}{1287}
\genb{794}{884}{1287}{cphage}{Phage-ABC}\gen{886}{957}{1287}{chnh}{HNH}
\gen[gsm]{956}{1036}{1287}{cssap}{SSAP\\(RecT/Redβ)}\gen[gsm]{1038}{1118}{1287}{cmbl}{MBL\\fold DNase}
\acct{794}{1310}{WP\_091962914.1~~Prevotella sp.}

% ================= Q : SMC =================
\ttl{697}{1325}{SMC}
\genb{696}{766}{1347}{csmc}{SMC}\gen[gmb]{767}{853}{1347}{cscpa}{ScpA\_Kleisin}
\acct{696}{1369}{KYC45993.1~~Candidatus Methanofastidiosum methylthiophilus (euryarchaeota)}
\genb{696}{766}{1395}{csmc}{SMC}\gen[gmb]{767}{851}{1395}{cscpa}{ScpA\_Kleisin}
\gen{852}{936}{1395}{cscpb}{ScpB-wHTH}
\acct{696}{1418}{ADB57117.1~~Archaeoglobus profundus}
\bdot{685}{1444}
\genb{696}{766}{1444}{csmc}{SMC}\gen{767}{820}{1444}{czipa}{ZipA}
\acct{696}{1466}{OEY97111.1~~Acinetobacter qingfengensis}
\bdot{685}{1493}
\gen[gmd]{696}{766}{1493}{crnase}{RNaseIII}\genb{767}{839}{1493}{csmc}{SMC}
\gen[gsm]{841}{911}{1493}{csrp}{GTPase\\SRP}
\acct{696}{1514}{OIO83753.1~~Actinobacteria bacterium}
\bdot{685}{1541}
\gen[gmd]{696}{766}{1541}{crnase}{RNaseIII}\gen[gmd]{767}{853}{1541}{crad}{RADICAL-SAM}
\genb{855}{927}{1541}{csmc}{SMC}\gen[gsm]{929}{999}{1541}{csrp}{GTPase\\SRP}
\gen[gsm]{1001}{1058}{1541}{csig}{Sigma\\HTH}\gen[gsm]{1059}{1129}{1541}{csrp}{GTPase\\SRP}
\acct{696}{1563}{EDP23636.1~~Parvimonas micra}

% ================= R : MukB =================
\ttl{950}{1427}{MukB}
\gen{946}{1016}{1448}{cmukf}{MukF}\gen{1017}{1063}{1448}{cmuke}{MukE}\genb{1064}{1122}{1448}{cmukb}{MukB}
\acct{946}{1470}{WP\_010413219.1~~Leptospira inadai}
\end{tikzpicture}
\end{document}
